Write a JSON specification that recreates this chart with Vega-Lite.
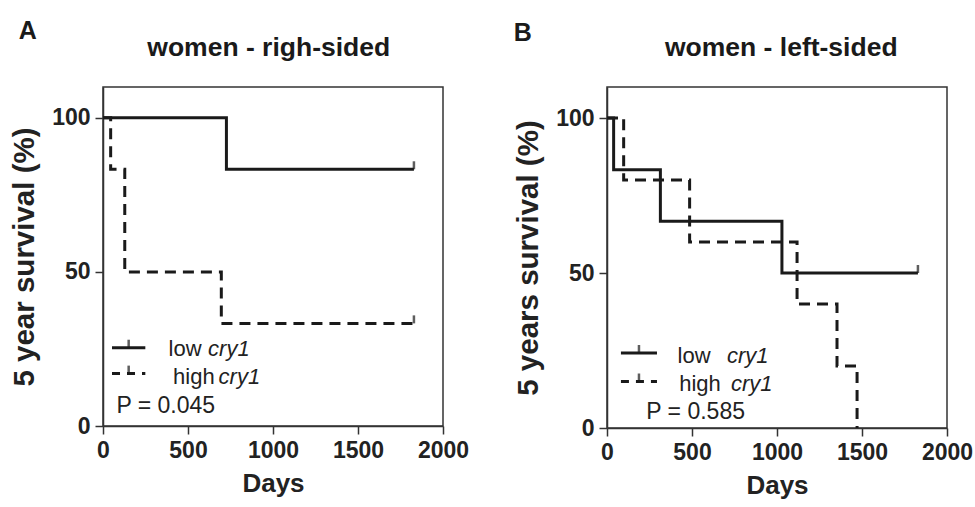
{
  "$schema": "https://vega.github.io/schema/vega-lite/v6.json",
  "padding": {"left": 8, "top": 18, "right": 2, "bottom": 5},
  "background": "white",
  "datasets": {
    "curves": [
      {"panel": "A", "group": "low cry1", "day": 0, "surv": 100},
      {"panel": "A", "group": "low cry1", "day": 726, "surv": 83.3},
      {"panel": "A", "group": "low cry1", "day": 1829, "surv": 83.3},
      {"panel": "A", "group": "high cry1", "day": 0, "surv": 100},
      {"panel": "A", "group": "high cry1", "day": 45, "surv": 83.3},
      {"panel": "A", "group": "high cry1", "day": 128, "surv": 50},
      {"panel": "A", "group": "high cry1", "day": 696, "surv": 33.3},
      {"panel": "A", "group": "high cry1", "day": 1829, "surv": 33.3},
      {"panel": "B", "group": "low cry1", "day": 0, "surv": 100},
      {"panel": "B", "group": "low cry1", "day": 39, "surv": 83.3},
      {"panel": "B", "group": "low cry1", "day": 314, "surv": 66.7},
      {"panel": "B", "group": "low cry1", "day": 1029, "surv": 50},
      {"panel": "B", "group": "low cry1", "day": 1829, "surv": 50},
      {"panel": "B", "group": "high cry1", "day": 0, "surv": 100},
      {"panel": "B", "group": "high cry1", "day": 98, "surv": 80},
      {"panel": "B", "group": "high cry1", "day": 486, "surv": 60},
      {"panel": "B", "group": "high cry1", "day": 1118, "surv": 40},
      {"panel": "B", "group": "high cry1", "day": 1353, "surv": 20},
      {"panel": "B", "group": "high cry1", "day": 1471, "surv": 0}
    ],
    "censor": [
      {"panel": "A", "group": "low cry1", "day": 1829, "surv": 83.3},
      {"panel": "A", "group": "high cry1", "day": 1829, "surv": 33.3},
      {"panel": "B", "group": "low cry1", "day": 1829, "surv": 50}
    ],
    "one": [{"k": 1}]
  },
  "hconcat": [
    {
      "width": 340,
      "height": 339,
      "title": {"text": "A", "anchor": "start", "frame": "bounds", "fontSize": 25, "fontWeight": "bold", "color": "#1a1a1a", "offset": -9, "dx": 9},
      "layer": [
        {
          "data": {"name": "curves"},
          "transform": [{"filter": "datum.panel == 'A'"}],
          "mark": {"type": "line", "interpolate": "step-after", "strokeWidth": 3, "color": "#1a1a1a"},
          "encoding": {
            "x": {"field": "day", "type": "quantitative", "scale": {"domain": [0, 2000]}, "axis": {"values": [0, 500, 1000, 1500, 2000], "format": "d", "title": "Days"}},
            "y": {"field": "surv", "type": "quantitative", "scale": {"domain": [0, 110]}, "axis": {"values": [0, 50, 100], "format": "d", "title": "5 year survival (%)"}},
            "strokeDash": {"field": "group", "type": "nominal", "scale": {"domain": ["low cry1", "high cry1"], "range": [[1, 0], [11, 7]]}, "legend": null}
          }
        },
        {
          "data": {"name": "censor"},
          "transform": [{"filter": "datum.panel == 'A'"}],
          "mark": {"type": "tick", "orient": "vertical", "size": 8, "thickness": 2.5, "yOffset": -4, "color": "#1a1a1a"},
          "encoding": {"x": {"field": "day", "type": "quantitative"}, "y": {"field": "surv", "type": "quantitative"}}
        },
        {
          "data": {"name": "one"},
          "mark": {"type": "rule", "strokeWidth": 3, "color": "#1a1a1a"},
          "encoding": {"x": {"datum": 53}, "x2": {"datum": 249}, "y": {"datum": 25.4}}
        },
        {
          "data": {"name": "one"},
          "mark": {"type": "rule", "strokeWidth": 3, "color": "#1a1a1a", "strokeDash": [8, 7]},
          "encoding": {"x": {"datum": 53}, "x2": {"datum": 249}, "y": {"datum": 17}}
        },
        {
          "data": {"name": "one"},
          "mark": {"type": "tick", "orient": "vertical", "size": 8, "thickness": 2.5, "yOffset": -4, "color": "#1a1a1a"},
          "encoding": {"x": {"datum": 151}, "y": {"datum": 25.4}}
        },
        {
          "data": {"name": "one"},
          "mark": {"type": "tick", "orient": "vertical", "size": 8, "thickness": 2.5, "yOffset": -4, "color": "#1a1a1a"},
          "encoding": {"x": {"datum": 151}, "y": {"datum": 17}}
        },
        {
          "data": {"name": "one"},
          "mark": {"type": "text", "align": "left", "baseline": "alphabetic", "fontSize": 22, "color": "#222"},
          "encoding": {"x": {"datum": 386}, "y": {"datum": 22.7}, "text": {"value": "low"}}
        },
        {
          "data": {"name": "one"},
          "mark": {"type": "text", "align": "left", "baseline": "alphabetic", "fontSize": 22, "fontStyle": "italic", "color": "#222"},
          "encoding": {"x": {"datum": 618}, "y": {"datum": 22.7}, "text": {"value": "cry1"}}
        },
        {
          "data": {"name": "one"},
          "mark": {"type": "text", "align": "left", "baseline": "alphabetic", "fontSize": 22, "color": "#222"},
          "encoding": {"x": {"datum": 412}, "y": {"datum": 13.5}, "text": {"value": "high"}}
        },
        {
          "data": {"name": "one"},
          "mark": {"type": "text", "align": "left", "baseline": "alphabetic", "fontSize": 22, "fontStyle": "italic", "color": "#222"},
          "encoding": {"x": {"datum": 680}, "y": {"datum": 13.5}, "text": {"value": "cry1"}}
        },
        {
          "data": {"name": "one"},
          "mark": {"type": "text", "align": "left", "baseline": "alphabetic", "fontSize": 23, "color": "#222"},
          "encoding": {"x": {"datum": 79}, "y": {"datum": 4.3}, "text": {"value": "P = 0.045"}}
        },
        {
          "data": {"name": "one"},
          "mark": {"type": "text", "align": "center", "baseline": "alphabetic", "fontSize": 26.5, "fontWeight": "bold", "color": "#1a1a1a"},
          "encoding": {"x": {"datum": 975}, "y": {"datum": 120}, "text": {"value": "women - righ-sided"}}
        }
      ]
    },
    {
      "width": 340,
      "height": 341,
      "title": {"text": "B", "anchor": "start", "frame": "bounds", "fontSize": 25, "fontWeight": "bold", "color": "#1a1a1a", "offset": -9, "dx": 0, "dy": 2},
      "layer": [
        {
          "data": {"name": "curves"},
          "transform": [{"filter": "datum.panel == 'B'"}],
          "mark": {"type": "line", "interpolate": "step-after", "strokeWidth": 3, "color": "#1a1a1a"},
          "encoding": {
            "x": {"field": "day", "type": "quantitative", "scale": {"domain": [0, 2000]}, "axis": {"values": [0, 500, 1000, 1500, 2000], "format": "d", "title": "Days"}},
            "y": {"field": "surv", "type": "quantitative", "scale": {"domain": [0, 110]}, "axis": {"values": [0, 50, 100], "format": "d", "title": "5 years survival (%)"}},
            "strokeDash": {"field": "group", "type": "nominal", "scale": {"domain": ["low cry1", "high cry1"], "range": [[1, 0], [11, 7]]}, "legend": null}
          }
        },
        {
          "data": {"name": "censor"},
          "transform": [{"filter": "datum.panel == 'B'"}],
          "mark": {"type": "tick", "orient": "vertical", "size": 8, "thickness": 2.5, "yOffset": -4, "color": "#1a1a1a"},
          "encoding": {"x": {"field": "day", "type": "quantitative"}, "y": {"field": "surv", "type": "quantitative"}}
        },
        {
          "data": {"name": "one"},
          "mark": {"type": "rule", "strokeWidth": 3, "color": "#1a1a1a"},
          "encoding": {"x": {"datum": 82}, "x2": {"datum": 294}, "y": {"datum": 24.2}}
        },
        {
          "data": {"name": "one"},
          "mark": {"type": "rule", "strokeWidth": 3, "color": "#1a1a1a", "strokeDash": [8, 7]},
          "encoding": {"x": {"datum": 82}, "x2": {"datum": 294}, "y": {"datum": 15}}
        },
        {
          "data": {"name": "one"},
          "mark": {"type": "tick", "orient": "vertical", "size": 8, "thickness": 2.5, "yOffset": -4, "color": "#1a1a1a"},
          "encoding": {"x": {"datum": 188}, "y": {"datum": 24.2}}
        },
        {
          "data": {"name": "one"},
          "mark": {"type": "tick", "orient": "vertical", "size": 8, "thickness": 2.5, "yOffset": -4, "color": "#1a1a1a"},
          "encoding": {"x": {"datum": 188}, "y": {"datum": 15}}
        },
        {
          "data": {"name": "one"},
          "mark": {"type": "text", "align": "left", "baseline": "alphabetic", "fontSize": 22, "color": "#222"},
          "encoding": {"x": {"datum": 415}, "y": {"datum": 21}, "text": {"value": "low"}}
        },
        {
          "data": {"name": "one"},
          "mark": {"type": "text", "align": "left", "baseline": "alphabetic", "fontSize": 22, "fontStyle": "italic", "color": "#222"},
          "encoding": {"x": {"datum": 706}, "y": {"datum": 21}, "text": {"value": "cry1"}}
        },
        {
          "data": {"name": "one"},
          "mark": {"type": "text", "align": "left", "baseline": "alphabetic", "fontSize": 22, "color": "#222"},
          "encoding": {"x": {"datum": 425}, "y": {"datum": 11.8}, "text": {"value": "high"}}
        },
        {
          "data": {"name": "one"},
          "mark": {"type": "text", "align": "left", "baseline": "alphabetic", "fontSize": 22, "fontStyle": "italic", "color": "#222"},
          "encoding": {"x": {"datum": 729}, "y": {"datum": 11.8}, "text": {"value": "cry1"}}
        },
        {
          "data": {"name": "one"},
          "mark": {"type": "text", "align": "left", "baseline": "alphabetic", "fontSize": 23, "color": "#222"},
          "encoding": {"x": {"datum": 231}, "y": {"datum": 2.9}, "text": {"value": "P = 0.585"}}
        },
        {
          "data": {"name": "one"},
          "mark": {"type": "text", "align": "center", "baseline": "alphabetic", "fontSize": 26.5, "fontWeight": "bold", "color": "#1a1a1a"},
          "encoding": {"x": {"datum": 1025}, "y": {"datum": 120}, "text": {"value": "women - left-sided"}}
        }
      ]
    }
  ],
  "spacing": 42,
  "config": {
    "font": "Liberation Sans",
    "view": {"stroke": "#333", "strokeWidth": 1.5},
    "axis": {
      "grid": false,
      "domainColor": "#333",
      "domainWidth": 1.5,
      "tickColor": "#333",
      "tickWidth": 1.5,
      "tickSize": 8,
      "labelFontWeight": "bold",
      "labelFontSize": 23,
      "labelColor": "#222",
      "labelPadding": 5,
      "labelOverlap": false,
      "labelFlush": false,
      "titleFontWeight": "bold",
      "titleColor": "#222"
    },
    "axisX": {"titleFontSize": 26, "titlePadding": 8},
    "axisY": {"titleFontSize": 29.5, "titlePadding": 12}
  }
}
